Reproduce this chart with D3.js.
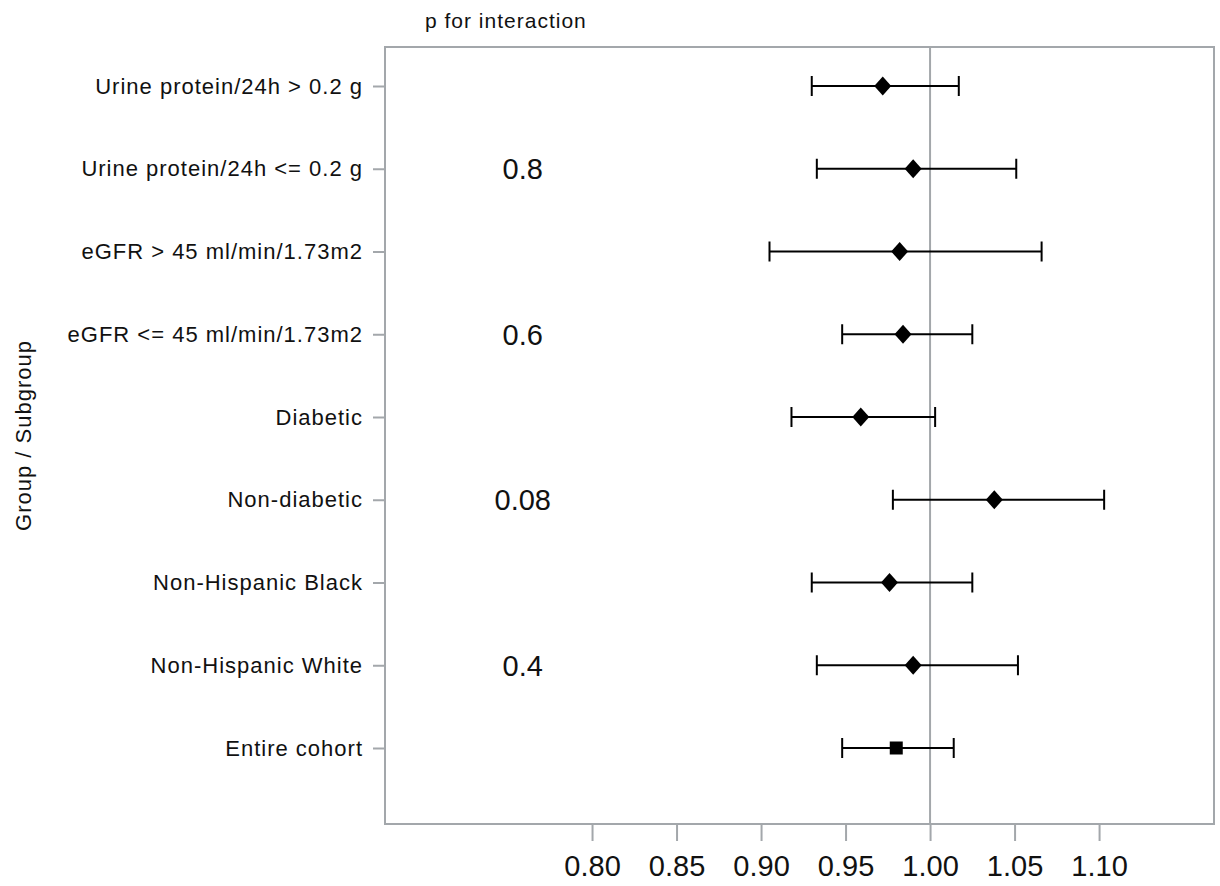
<!DOCTYPE html>
<html>
<head>
<meta charset="utf-8">
<script src="https://cdn.jsdelivr.net/npm/d3@7"></script>
<style>
  body { margin: 0; background: #ffffff; }
  text { font-family: "Liberation Sans", Arial, sans-serif; fill: #111; }
</style>
</head>
<body>
<div id="forest"></div>
<script>
'use strict';

// subgroups, top to bottom
const groups = [
  'Urine protein/24h > 0.2 g',
  'Urine protein/24h <= 0.2 g',
  'eGFR > 45 ml/min/1.73m2',
  'eGFR <= 45 ml/min/1.73m2',
  'Diabetic',
  'Non-diabetic',
  'Non-Hispanic Black',
  'Non-Hispanic White',
  'Entire cohort'
];

const estimates = [0.972, 0.990, 0.982, 0.984, 0.959, 1.038, 0.976, 0.990, 0.980];
const lowerCI   = [0.930, 0.933, 0.905, 0.948, 0.918, 0.978, 0.930, 0.933, 0.948];
const upperCI   = [1.017, 1.051, 1.066, 1.025, 1.003, 1.103, 1.025, 1.052, 1.014];
const markers   = ['diamond', 'diamond', 'diamond', 'diamond', 'diamond', 'diamond', 'diamond', 'diamond', 'square'];

// p for interaction, shown next to the second row of each pair
const pValues = ['', '0.8', '', '0.6', '', '0.08', '', '0.4', ''];
const pValueAt = 0.759;

const xTicks = [0.80, 0.85, 0.90, 0.95, 1.00, 1.05, 1.10];
const xDomain = [0.6775, 1.168];
const refValue = 1.00;

const width = 1220, height = 886;
const frame = { left: 385, top: 47, right: 1214, bottom: 824 };

const svg = d3.select('#forest')
  .append('svg')
  .attr('width', width)
  .attr('height', height);

svg.append('rect')
  .attr('width', width)
  .attr('height', height)
  .attr('fill', '#ffffff');

const x = d3.scaleLinear()
  .domain(xDomain)
  .range([frame.left, frame.right]);

const y = d3.scalePoint()
  .domain(groups)
  .range([86, 748]);

const rows = groups.map((g, i) => ({
  group: g, est: estimates[i], lo: lowerCI[i], hi: upperCI[i], shape: markers[i], p: pValues[i]
}));

// frame
svg.append('rect')
  .attr('x', frame.left)
  .attr('y', frame.top)
  .attr('width', frame.right - frame.left)
  .attr('height', frame.bottom - frame.top)
  .attr('fill', 'none')
  .attr('stroke', '#a3a7ab')
  .attr('stroke-width', 2);

// reference line at 1
svg.append('line')
  .attr('x1', x(refValue)).attr('x2', x(refValue))
  .attr('y1', frame.top).attr('y2', frame.bottom)
  .attr('stroke', '#a3a7ab')
  .attr('stroke-width', 2);

// axes
const xAxis = svg.append('g')
  .attr('transform', 'translate(0,' + frame.bottom + ')')
  .call(d3.axisBottom(x).tickValues(xTicks).tickFormat(d3.format('.2f')).tickSize(17).tickPadding(14));

xAxis.select('.domain').remove();
xAxis.selectAll('line').attr('stroke', '#a3a7ab').attr('stroke-width', 2);
xAxis.selectAll('text')
  .attr('font-size', 29)
  .attr('font-family', '"Liberation Sans", Arial, sans-serif')
  .attr('fill', '#1a1a1a');

const yAxis = svg.append('g')
  .attr('transform', 'translate(' + frame.left + ',0)')
  .call(d3.axisLeft(y).tickSize(12).tickPadding(10));

yAxis.select('.domain').remove();
yAxis.selectAll('line').attr('stroke', '#a3a7ab').attr('stroke-width', 2);
yAxis.selectAll('text')
  .attr('font-size', 22)
  .attr('letter-spacing', 1)
  .attr('font-family', '"Liberation Sans", Arial, sans-serif')
  .attr('fill', '#111');

// axis title
svg.append('text')
  .attr('transform', 'translate(31,' + ((frame.top + frame.bottom) / 2) + ') rotate(-90)')
  .attr('text-anchor', 'middle')
  .attr('font-size', 22)
  .attr('letter-spacing', 1)
  .text('Group / Subgroup');

svg.append('text')
  .attr('x', 425)
  .attr('y', 28)
  .attr('font-size', 21)
  .attr('letter-spacing', 1)
  .text('p for interaction');

// confidence intervals
const ci = svg.append('g').attr('class', 'ci');
const capHalf = 10;

ci.selectAll('line.whisker')
  .data(rows)
  .enter().append('line')
  .attr('class', 'whisker')
  .attr('x1', d => x(d.lo)).attr('x2', d => x(d.hi))
  .attr('y1', d => y(d.group)).attr('y2', d => y(d.group))
  .attr('stroke', '#000').attr('stroke-width', 2);

ci.selectAll('line.cap-lo')
  .data(rows)
  .enter().append('line')
  .attr('class', 'cap-lo')
  .attr('x1', d => x(d.lo)).attr('x2', d => x(d.lo))
  .attr('y1', d => y(d.group) - capHalf).attr('y2', d => y(d.group) + capHalf)
  .attr('stroke', '#000').attr('stroke-width', 2);

ci.selectAll('line.cap-hi')
  .data(rows)
  .enter().append('line')
  .attr('class', 'cap-hi')
  .attr('x1', d => x(d.hi)).attr('x2', d => x(d.hi))
  .attr('y1', d => y(d.group) - capHalf).attr('y2', d => y(d.group) + capHalf)
  .attr('stroke', '#000').attr('stroke-width', 2);

// point estimates
function markerPath(shape) {
  if (shape === 'square') {
    return 'M-6.5,-6.5L6.5,-6.5L6.5,6.5L-6.5,6.5Z';
  }
  return 'M0,-9.5L8.5,0L0,9.5L-8.5,0Z';
}

svg.append('g')
  .selectAll('path')
  .data(rows)
  .enter().append('path')
  .attr('transform', d => 'translate(' + x(d.est) + ',' + y(d.group) + ')')
  .attr('d', d => markerPath(d.shape))
  .attr('fill', '#000');

// p values
svg.append('g')
  .selectAll('text')
  .data(rows.filter(d => d.p !== ''))
  .enter().append('text')
  .attr('x', x(pValueAt))
  .attr('y', d => y(d.group))
  .attr('dy', '0.36em')
  .attr('text-anchor', 'middle')
  .attr('font-size', 29)
  .attr('fill', '#222')
  .text(d => d.p);
</script>
</body>
</html>
